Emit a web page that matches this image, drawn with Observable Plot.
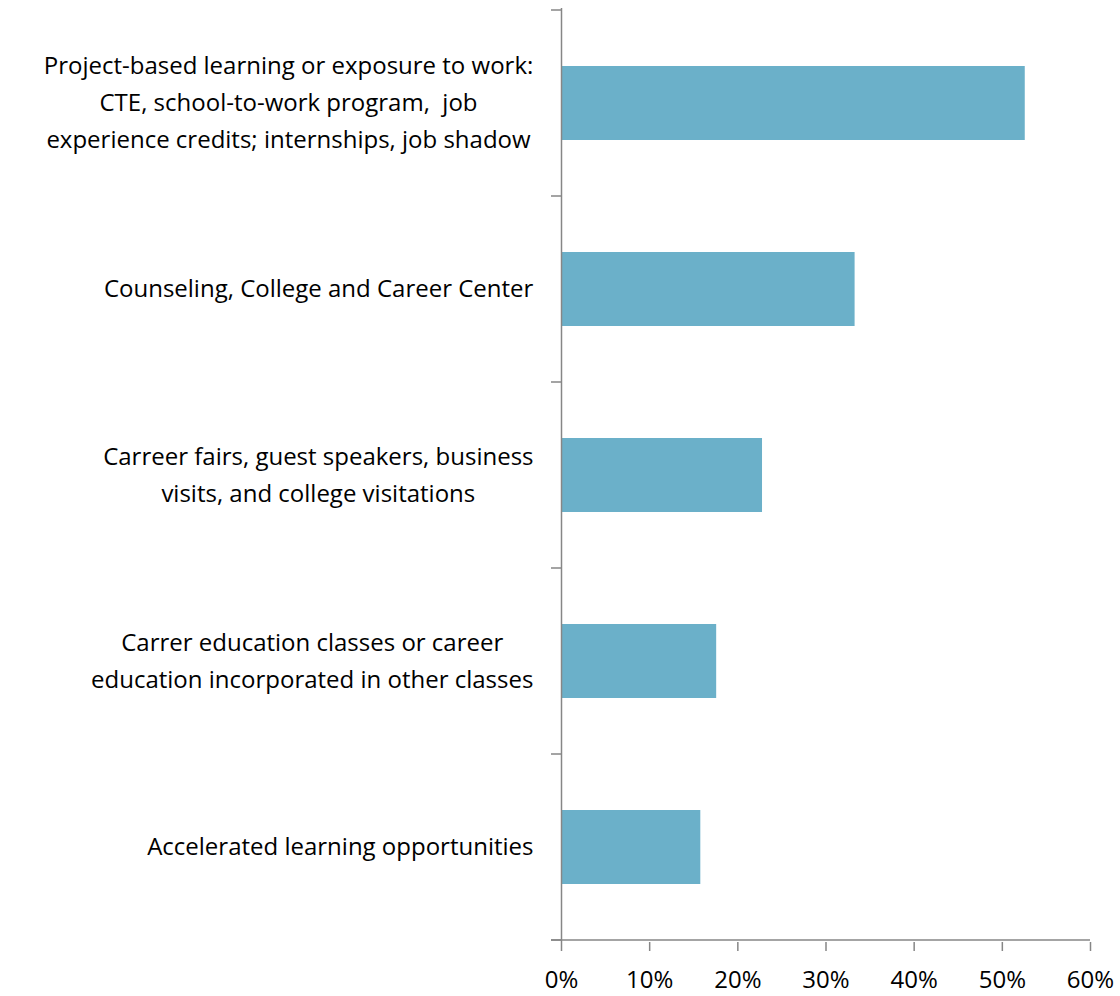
<!DOCTYPE html>
<html><head><meta charset="utf-8">
<script src="https://cdn.jsdelivr.net/npm/d3@7"></script>
<script src="https://cdn.jsdelivr.net/npm/@observablehq/plot@0.6"></script>
<style>html,body{margin:0;background:#fff} svg{display:block}</style>
</head><body><div id="chart"></div>
<script>
const categories = [
  "Project-based learning or exposure to work:\nCTE, school-to-work program,  job\nexperience credits; internships, job shadow",
  "Counseling, College and Career Center",
  "Carreer fairs, guest speakers, business\nvisits, and college visitations",
  "Carrer education classes or career\neducation incorporated in other classes",
  "Accelerated learning opportunities"
];
const values = [52.6, 33.3, 22.8, 17.6, 15.8];
const xTicks = [0, 10, 20, 30, 40, 50, 60];
const xDomain = [0, 60];

const data = categories.map((c, i) => ({category: c, value: values[i]}));
const axisGray = "#868686";
const barColor = "#6bb0c9";

// Excel-style axis lines: y-axis boundary ticks between categories + bottom x-axis line
const axisFrame = (index, scales, vals, dims) => {
  const y = scales.y;
  const off = (y.step() - y.bandwidth()) / 2;
  const edges = categories.map(c => y(c) - off);
  edges.push(y(categories[categories.length - 1]) + y.bandwidth() + off);
  const x0 = dims.marginLeft;
  const x1 = dims.width - dims.marginRight;
  const g = d3.create("svg:g").attr("stroke", axisGray).attr("stroke-width", 1.5).attr("fill", "none");
  g.selectAll("line.tk").data(edges).join("line")
    .attr("x1", x0 - 10).attr("x2", x0).attr("y1", d => d).attr("y2", d => d);
  g.append("line").attr("x1", x0 - 10).attr("x2", x1)
    .attr("y1", edges[edges.length - 1]).attr("y2", edges[edges.length - 1]);
  return g.node();
};

const chart = Plot.plot({
  width: 1120,
  height: 996,
  marginTop: 8,
  marginBottom: 54,
  marginLeft: 561,
  marginRight: 30,
  style: {fontFamily: "'Open Sans', sans-serif", fontSize: "24px", color: "#000", background: "#fff"},
  x: {domain: xDomain},
  y: {domain: categories, paddingInner: 0.6, paddingOuter: 0.3},
  marks: [
    Plot.barX(data, {x: "value", y: "category", fill: barColor}),
    Plot.ruleX([0], {stroke: axisGray, strokeWidth: 1.5}),
    Plot.axisX({ticks: xTicks, tickFormat: d => d + "%", tickSize: 9, tickPadding: 19, stroke: axisGray, fill: "#000", fontSize: 24, label: null, strokeWidth: 1.5, strokeOpacity: 1}),
    Plot.axisY({tickSize: 0, tickPadding: 28, fontSize: 24, lineHeight: 1.54, dy: -4, fill: "#000", label: null}),
    axisFrame
  ]
});
document.getElementById("chart").appendChild(chart);

// center each multi-line label block while keeping its right edge at the axis padding
chart.querySelectorAll('g[aria-label="y-axis tick label"] text').forEach(t => {
  const w = t.getBBox().width;
  t.setAttribute("text-anchor", "middle");
  t.setAttribute("transform", (t.getAttribute("transform") || "") + ` translate(${-w / 2},0)`);
});
</script>
</body></html>
